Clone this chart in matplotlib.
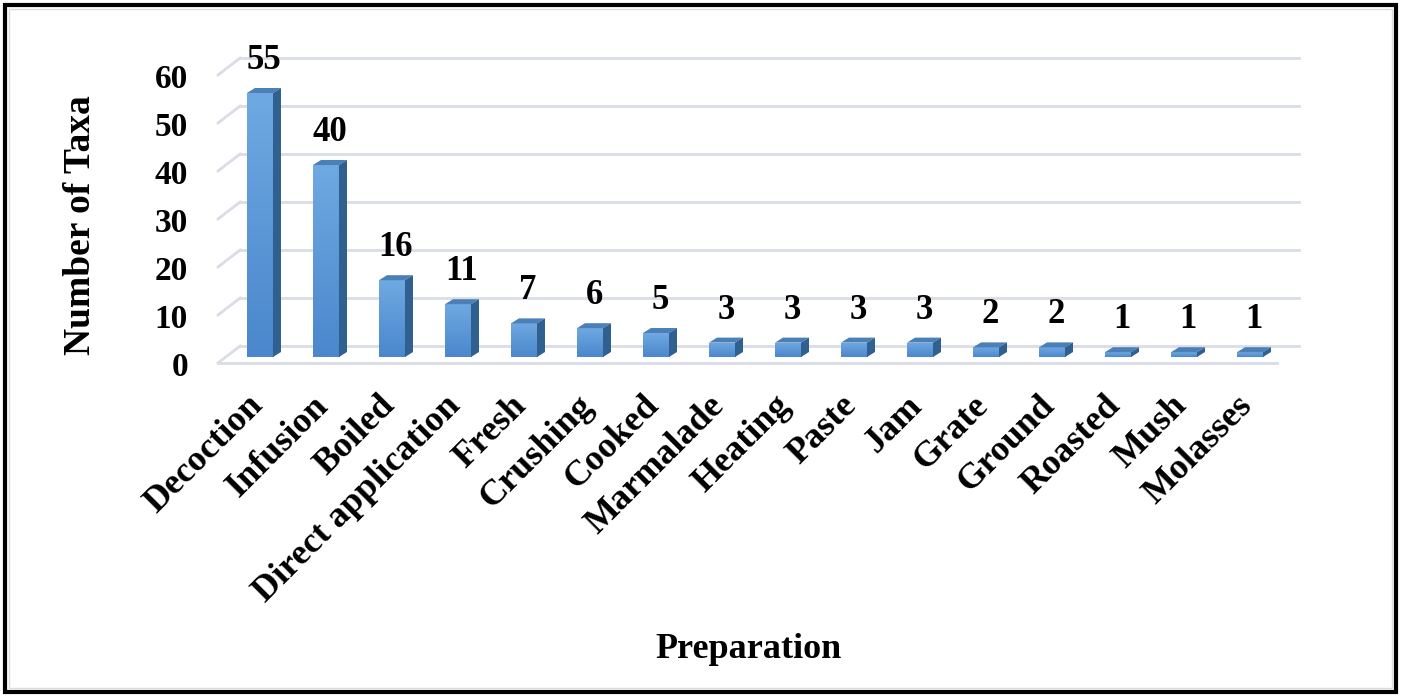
import matplotlib
matplotlib.use('Agg')
import matplotlib.pyplot as plt
import numpy as np
from matplotlib.patches import Polygon, Rectangle
from matplotlib.transforms import ScaledTranslation

# data
categories = ['Decoction', 'Infusion', 'Boiled', 'Direct application', 'Fresh',
              'Crushing', 'Cooked', 'Marmalade', 'Heating', 'Paste', 'Jam',
              'Grate', 'Ground', 'Roasted', 'Mush', 'Molasses']
counts = [55, 40, 16, 11, 7, 6, 5, 3, 3, 3, 3, 2, 2, 1, 1, 1]
yticks = [0, 10, 20, 30, 40, 50, 60]

plt.rcParams['font.family'] = ['Liberation Serif', 'DejaVu Serif']
plt.rcParams['font.weight'] = 'bold'

W, H = 1401, 697
fig = plt.figure(figsize=(W / 100, H / 100), dpi=100)

# axes = plane of the bars' front faces
ax_l, ax_r, ax_b, ax_t = 226, 1285, 357, 69
ax = fig.add_axes([ax_l / W, 1 - ax_b / H, (ax_r - ax_l) / W, (ax_b - ax_t) / H])
xmin, xmax = -0.515, 15.53
ax.set_xlim(xmin, xmax)
ax.set_ylim(0, 60)
ax.axis('off')

px_x = (ax_r - ax_l) / (xmax - xmin)   # pixels per category
px_y = (ax_b - ax_t) / 60.0             # pixels per unit


def shift(dx, dy):
    return ax.transData + ScaledTranslation(dx / 100, dy / 100, fig.dpi_scale_trans)


# front plane / back wall offsets in pixels
fdx, fdy = -8, -6
bdx, bdy = 14, 11
front = shift(fdx, fdy)
back = shift(bdx, bdy)
grid_c = '#d9dde6'

# back wall grid + left wall diagonals
for t in yticks:
    ax.plot([xmin, xmax], [t, t], color=grid_c, lw=2, transform=back, zorder=1,
            clip_on=False)
    ax.plot([xmin + fdx / px_x, xmin + bdx / px_x], [t + fdy / px_y, t + bdy / px_y],
            color=grid_c, lw=2, zorder=1, clip_on=False)
    ax.annotate(str(t), xy=(xmin, t), xycoords=front, xytext=(-30, -5),
                textcoords='offset pixels', ha='right', va='center',
                fontsize=24, fontweight='bold')
# floor front edge
ax.plot([xmin, xmax], [0, 0], color=grid_c, lw=2, transform=front, zorder=1,
        clip_on=False)

w = 0.394
ddx = 8 / px_x
ddy = 5 / px_y
grad = np.linspace(0, 1, 100).reshape(-1, 1)
cmap = matplotlib.colors.LinearSegmentedColormap.from_list('b', ['#4a87cc', '#6fa9e2'])

for i, v in enumerate(counts):
    x0, x1 = i - w / 2, i + w / 2
    bar = ax.bar(i, v, width=w, color='#5b9bd5', zorder=3)[0]
    im = ax.imshow(grad, extent=(x0, x1, 0, v), origin='lower', cmap=cmap,
                   aspect='auto', zorder=3.1)
    im.set_clip_path(bar)
    top = Polygon([(x0, v), (x1, v), (x1 + ddx, v + ddy), (x0 + ddx, v + ddy)],
                  closed=True, facecolor='#4b7fb8', edgecolor='none', zorder=3.2)
    side = Polygon([(x1, 0), (x1 + ddx, ddy), (x1 + ddx, v + ddy), (x1, v)],
                   closed=True, facecolor='#30608f', edgecolor='none', zorder=3.2)
    ax.add_patch(top)
    ax.add_patch(side)
    ax.annotate(str(v), xy=(i, v), xytext=(4, 24), textcoords='offset pixels',
                ha='center', va='baseline', fontsize=25, fontweight='bold')
    ax.annotate(categories[i], xy=(i, 0), xytext=(-14, -32), textcoords='offset pixels',
                ha='right', va='top', rotation=45, rotation_mode='anchor',
                fontsize=26, fontweight='bold')

ax.set_xlim(xmin, xmax)
ax.set_ylim(0, 60)

fig.text(748 / W, 1 - 650 / H, 'Preparation', ha='center', va='center',
         fontsize=26, fontweight='bold')
fig.text(80 / W, 1 - 225 / H, 'Number of Taxa', ha='center', va='center',
         rotation=90, fontsize=27, fontweight='bold')

fig.add_artist(Rectangle((5 / W, 5 / H), 1 - 10 / W, 1 - 10 / H, transform=fig.transFigure,
                         fill=False, edgecolor='black', lw=3))
fig.add_artist(Rectangle((9 / W, 9 / H), 1 - 18 / W, 1 - 18 / H, transform=fig.transFigure,
                         fill=False, edgecolor='#dcdcdc', lw=1))

fig.savefig('out.png', dpi=100)
